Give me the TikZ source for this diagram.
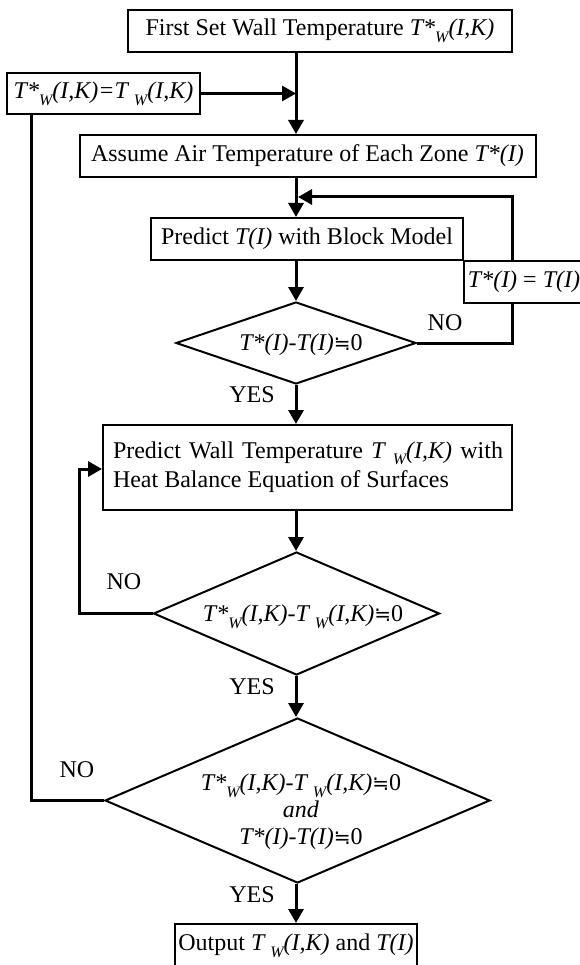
\documentclass[tikz,border=0pt]{standalone}
\usepackage{fontspec}
\setmainfont{Liberation Serif}
\newfontfamily\symfont{DejaVu Sans}
\usetikzlibrary{arrows.meta,shapes.geometric}
\newcommand\lw[1]{\raisebox{-0.28em}{\fontsize{16}{16}\selectfont #1}}
\newcommand\nearlyeq{{\symfont\fontsize{20}{20}\selectfont ≒}}
\begin{document}
\begin{tikzpicture}[x=1pt,y=-1pt,
  txt/.style={font=\fontsize{24}{29}\selectfont},
  box/.style={txt, draw, line width=2pt, fill=white, inner sep=0pt},
  dia/.style={draw, diamond, line width=2pt, inner sep=0pt},
  conn/.style={line width=3pt},
  arr/.style={conn, -{Triangle[length=14pt,width=15pt]}},
  lab/.style={txt, inner sep=0pt}]
\useasboundingbox (0,0) rectangle (580,965);
\fill[white] (0,0) rectangle (580,965);
\coordinate (mx) at (296,0);
% boxes
\node[box, minimum width=384pt, minimum height=42pt] (b1) at (320,31)
  {First Set Wall Temperature \textit{T*\lw{W}(I,K)}};
\node[box, minimum width=193pt, minimum height=41pt] (side) at (103.5,93.5)
  {\textit{T*\lw{W}(I,K)=T \lw{W}(I,K)}};
\node[box, minimum width=456pt, minimum height=42pt] (b2) at (307.5,156)
  {Assume Air Temperature of Each Zone \textit{T*(I)}};
\node[box, minimum width=312pt, minimum height=42pt] (b3) at (307,239)
  {Predict \textit{T(I)} with Block Model};
\node[dia, minimum width=240pt, minimum height=82pt] (d1) at (296,343) {};
\node[lab] (d1t) at (301,345) {\textit{T*(I)-T(I)}\nearlyeq0};
\node[box, minimum width=409pt, minimum height=85pt] (b4) at (307.5,467.5) {};
\node[lab, text width=390pt, align=justify] (b4t) at (308,467)
  {Predict Wall Temperature \textit{T \lw{W}(I,K)} with\linebreak Heat Balance Equation of Surfaces};
\node[dia, minimum width=286pt, minimum height=123pt] (d2) at (296.5,613.5) {};
\node[lab] (d2t) at (303,617) {\textit{T*\lw{W}(I,K)-T \lw{W}(I,K)}\nearlyeq0};
\node[dia, minimum width=385pt, minimum height=165pt] (d3) at (297.5,800.5) {};
\node[lab, align=center] (d3t) at (301,812)
  {\textit{T*\lw{W}(I,K)-T \lw{W}(I,K)}\nearlyeq0\\[-2pt]\textit{and}\\[-2pt]\textit{T*(I)-T(I)}\nearlyeq0};
\node[box, minimum width=242pt, minimum height=44pt] (out) at (296,946)
  {Output \textit{T \lw{W}(I,K)} and \textit{T(I)}};
% connectors
\draw[arr] (b1.south -| mx) -- (b2.north -| mx);
\coordinate (j1) at (296,93.5);
\draw[arr] (side.east) -- (j1);
\draw[arr] (b2.south -| mx) -- (b3.north -| mx);
\coordinate (j2) at (298,197);
\coordinate (r1) at (512,197);
\coordinate (r2) at (512,343);
\draw[arr] (d1.east) -- (r2) -- (r1) -- (j2);
\node[box, minimum width=120pt, minimum height=42pt, anchor=north west] (rb) at (463,260)
  {\textit{T*(I)} = \textit{T(I)}\hspace{6pt}};
\draw[arr] (b3.south -| mx) -- (d1.north);
\draw[arr] (d1.south) -- (b4.north -| mx);
\draw[arr] (b4.south -| mx) -- (d2.north -| mx);
\coordinate (l1) at (79,613.5);
\coordinate (l2) at (79,469);
\draw[arr] (d2.west) -- (l1) -- (l2) -- (b4.west |- l2);
\draw[arr] (d2.south -| mx) -- (d3.north -| mx);
\coordinate (k1) at (31.5,800.5);
\draw[conn] (d3.west) -- (k1) -- (side.south -| k1);
\draw[arr] (d3.south -| mx) -- (out.north -| mx);
% labels
\node[lab] (no1) at (445,323) {NO};
\node[lab] (yes1) at (252,395) {YES};
\node[lab] (no2) at (124,582) {NO};
\node[lab] (yes2) at (252,687) {YES};
\node[lab] (no3) at (77,770) {NO};
\node[lab] (yes3) at (252,895) {YES};
\end{tikzpicture}
\end{document}
